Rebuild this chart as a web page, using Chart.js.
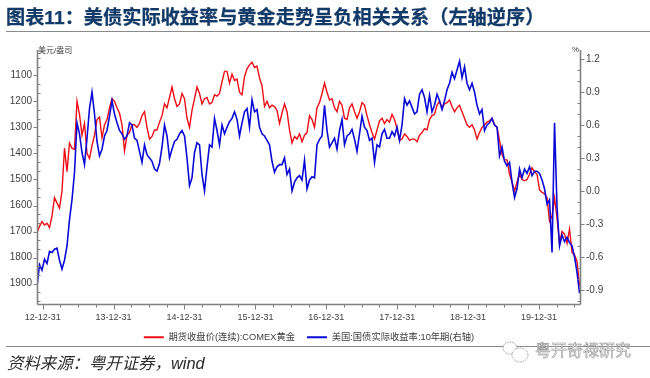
<!DOCTYPE html>
<html lang="zh"><head><meta charset="utf-8">
<style>
html,body{margin:0;padding:0;background:#fff;width:650px;height:378px;overflow:hidden}
#wrap{position:relative;width:650px;height:378px;font-family:"Liberation Sans","Noto Sans CJK SC",sans-serif}
canvas{position:absolute;left:0;top:0}
.t{position:absolute;white-space:nowrap}
#title{left:6px;top:5px;font-size:19.2px;line-height:26px;font-weight:700;color:#123a68;-webkit-text-stroke:.25px #123a68}
.rule{position:absolute;left:6px;right:0;height:1px;background:#8a8a8a}
#src{left:7px;top:353px;font-size:16.4px;line-height:20px;font-style:italic;color:#2b2b2b}
#wm{left:535px;top:341px;font-size:16px;line-height:20px;color:#f4f4f4;-webkit-text-stroke:.5px #8b8b8b}
svg{position:absolute;left:500px;top:336px}
</style></head><body>
<div id="wrap">
<canvas id="c" width="650" height="378"></canvas>
<div class="t" id="title">图表11：美债实际收益率与黄金走势呈负相关关系（左轴逆序）</div>
<div class="rule" style="top:31px"></div>
<div class="rule" style="top:346px"></div>
<div class="t" id="src">资料来源：粤开证券，wind</div>
<svg width="32" height="32" viewBox="0 0 32 32" fill="#fff" stroke="#888" stroke-width=".8" stroke-dasharray="1.5 1"><ellipse cx="10" cy="12" rx="7" ry="6"/><ellipse cx="20" cy="19" rx="8" ry="7"/></svg>
<div class="t" id="wm">粤开奇禄研究</div>
</div>
<script src="https://cdn.jsdelivr.net/npm/chart.js@4"></script>
<script>
// Year labels at each 31 December
const yearTicks = [2013,2014,2015,2016,2017,2018,2019,2020];
const yearLabels = ['12-12-31','13-12-31','14-12-31','15-12-31','16-12-31','17-12-31','18-12-31','19-12-31'];
const goldTicks = [1100,1200,1300,1400,1500,1600,1700,1800,1900];
const rateTicks = [1.2,0.9,0.6,0.3,0.0,-0.3,-0.6,-0.9];
const goldName = '期货收盘价(连续):COMEX黄金';
const rateName = '美国:国债实际收益率:10年期(右轴)';
const goldValues = [
1706,1680,1662,1675,1668,1685,1640,1570,1590,1610,
1545,1380,1470,1360,1380,1385,1200,1250,1330,1285,
1400,1420,1370,1330,1270,1260,1340,1290,1270,1225,
1190,1200,1225,1245,1290,1390,1330,1320,1290,1290,
1300,1285,1255,1240,1300,1345,1335,1310,1310,1280,
1255,1210,1225,1185,1145,1190,1220,1210,1170,1190,
1265,1300,1235,1190,1145,1170,1210,1190,1185,1210,
1205,1175,1180,1170,1125,1085,1085,1130,1095,1120,
1115,1165,1175,1105,1075,1060,1050,1070,1065,1110,
1140,1220,1200,1225,1215,1220,1235,1285,1245,1210,
1240,1310,1360,1335,1345,1325,1355,1330,1320,1255,
1270,1300,1225,1205,1170,1130,1165,1195,1190,1225,
1240,1200,1215,1265,1270,1225,1210,1240,1265,1240,
1205,1215,1255,1290,1320,1345,1310,1275,1265,1285,
1270,1280,1250,1270,1305,1350,1345,1325,1335,1350,
1345,1345,1355,1330,1320,1305,1310,1270,1255,1250,
1215,1200,1225,1210,1205,1195,1220,1240,1225,1215,
1240,1265,1290,1300,1290,1310,1345,1320,1300,1290,
1280,1275,1265,1290,1300,1350,1405,1425,1425,1480,
1510,1545,1510,1480,1500,1505,1500,1480,1455,1470,
1480,1540,1550,1555,1570,1660,1640,1570,1650,1745,
1700,1710,1745,1690,1780,1790,1815,1910];
const rateValues = [
-0.87,-0.67,-0.72,-0.62,-0.66,-0.55,-0.56,-0.53,-0.52,-0.63,
-0.71,-0.63,-0.50,-0.26,-0.08,0.17,0.62,0.52,0.35,0.24,
0.48,0.75,0.90,0.70,0.45,0.32,0.38,0.50,0.55,0.68,
0.82,0.70,0.62,0.55,0.52,0.47,0.50,0.62,0.60,0.48,
0.46,0.36,0.26,0.42,0.33,0.30,0.27,0.20,0.18,0.25,
0.40,0.60,0.50,0.30,0.38,0.45,0.47,0.52,0.55,0.50,
0.30,0.05,0.12,0.35,0.44,0.42,0.15,0.00,0.22,0.42,
0.40,0.66,0.55,0.42,0.60,0.52,0.58,0.63,0.66,0.72,
0.65,0.50,0.62,0.72,0.75,0.58,0.83,0.72,0.74,0.58,
0.52,0.50,0.46,0.42,0.27,0.17,0.22,0.24,0.24,0.30,
0.15,0.20,0.00,0.08,0.12,0.14,0.10,0.28,0.02,0.10,
0.13,0.12,0.42,0.47,0.50,0.78,0.55,0.40,0.44,0.48,
0.38,0.55,0.65,0.42,0.50,0.52,0.56,0.47,0.36,0.52,
0.68,0.58,0.55,0.46,0.48,0.26,0.42,0.40,0.52,0.56,
0.48,0.48,0.54,0.50,0.58,0.46,0.60,0.84,0.78,0.82,
0.76,0.70,0.72,0.88,0.92,0.85,0.72,0.87,0.72,0.78,
0.88,0.82,0.74,0.82,0.92,0.98,1.08,1.02,1.10,1.18,
1.03,1.13,0.98,0.92,0.98,0.90,0.78,0.70,0.74,0.55,
0.60,0.62,0.66,0.60,0.58,0.32,0.40,0.27,0.23,0.26,
0.08,-0.06,0.02,0.20,0.12,0.20,0.16,0.22,0.14,0.18,
0.18,0.16,0.10,0.02,-0.12,-0.08,-0.56,0.62,-0.15,-0.50,
-0.40,-0.46,-0.42,-0.47,-0.50,-0.60,-0.74,-0.93];
const firstYear = 2012.92, sampleStep = 0.03526;
const sampleYears = goldValues.map((_, i) => firstYear + i * sampleStep);

const FONT = '"Liberation Sans","Noto Sans CJK SC",sans-serif';
const AX = '#808080', TXT = '#404040';
const quarters = []; for (let q = 2013; q <= 2020.5; q += 0.25) quarters.push(q);
const goldMinor = []; for (let k = -2; k <= 26; k++) goldMinor.push(1100 + k * 100 / 3);
const rateMinor = []; for (let k = 12; k >= -10; k--) rateMinor.push(k / 10);

const frame = {
  id: 'frame',
  afterDatasetsDraw(ch) {
    const { ctx, chartArea: a, scales: s } = ch;
    ctx.save();
    ctx.strokeStyle = AX; ctx.lineWidth = 1;
    const ln = (x1, y1, x2, y2) => { ctx.beginPath(); ctx.moveTo(x1, y1); ctx.lineTo(x2, y2); ctx.stroke(); };
    const L = Math.round(a.left) + .5, R = Math.round(a.right) + .5, B = Math.round(a.bottom) + .5;
    ctx.lineWidth = 1.6;
    ln(L, a.top, L, B); ln(R, a.top, R, B); ln(L, B, R, B);
    ctx.lineWidth = 1;
    goldMinor.forEach(v => { const y = Math.round(s.yGold.getPixelForValue(v)) + .5;
      if (goldTicks.includes(Math.round(v))) ln(L - 4, y, L, y); else ln(L, y, L + 3, y); });
    rateMinor.forEach(v => { const y = Math.round(s.yRate.getPixelForValue(v)) + .5;
      if (rateTicks.some(t => Math.abs(t - v) < 1e-6)) ln(R, y, R + 4, y); else ln(R - 3, y, R, y); });
    quarters.forEach(v => { const x = Math.round(s.x.getPixelForValue(v)) + .5;
      ln(x, B, x, B + (Number.isInteger(v) ? 5 : 3)); });
    ctx.fillStyle = TXT; ctx.font = '8px ' + FONT; ctx.textBaseline = 'middle';
    ctx.textAlign = 'left'; ctx.fillText('美元/盎司', 38, 51);
    ctx.textAlign = 'right'; ctx.fillText('%', 579, 50);
    ctx.restore();
  }
};

new Chart(document.getElementById('c'), {
  type: 'line',
  data: { datasets: [
    { label: goldName, yAxisID: 'yGold', order: 2, borderColor: '#ee0d14', borderWidth: 1.4, pointRadius: 0, tension: 0,
      data: goldValues.map((v, i) => ({ x: sampleYears[i], y: v })) },
    { label: rateName, yAxisID: 'yRate', order: 1, borderColor: '#0a0ad8', borderWidth: 1.6, pointRadius: 0, tension: 0,
      data: rateValues.map((v, i) => ({ x: sampleYears[i], y: v })) }
  ]},
  options: {
    responsive: false, animation: false, devicePixelRatio: 1,
    layout: { padding: { left: 0, right: 32, top: 50, bottom: 26 } },
    plugins: {
      tooltip: { enabled: false },
      legend: { position: 'bottom', labels: { usePointStyle: false, boxWidth: 20, boxHeight: 2, padding: 12,
        color: TXT, font: { size: 9.3, family: FONT },
        generateLabels(ch) {
          return ch.data.datasets.map((d, i) => ({ text: d.label, strokeStyle: d.borderColor, fillStyle: d.borderColor,
            lineWidth: 0, datasetIndex: i, hidden: false, fontColor: TXT }));
        } } }
    },
    scales: {
      x: { type: 'linear', min: 2012.92, max: 2020.578, grid: { display: false, drawTicks: false }, border: { display: false },
        afterBuildTicks(sc) { sc.ticks = yearTicks.map(v => ({ value: v })); },
        afterFit(sc) { sc.height = 17; },
        ticks: { autoSkip: false, maxRotation: 0, padding: 8, color: TXT, font: { size: 9, family: FONT },
          callback(v) { const i = yearTicks.indexOf(v); return i >= 0 ? yearLabels[i] : ''; } } },
      yGold: { position: 'left', reverse: true, min: 1003, max: 1977, grid: { display: false, drawTicks: false }, border: { display: false },
        afterBuildTicks(sc) { sc.ticks = goldTicks.map(v => ({ value: v })); },
        afterFit(sc) { sc.width = 37; },
        ticks: { autoSkip: false, padding: 5, color: TXT, font: { size: 10, family: FONT },
          callback(v) { return String(v); } } },
      yRate: { position: 'right', min: -1.025, max: 1.282, grid: { display: false, drawTicks: false }, border: { display: false },
        afterBuildTicks(sc) { sc.ticks = rateTicks.map(v => ({ value: v })); },
        afterFit(sc) { sc.width = 38; },
        ticks: { autoSkip: false, padding: 6, color: TXT, font: { size: 10, family: FONT },
          callback(v) { return Number(v).toFixed(1); } } }
    }
  },
  plugins: [frame]
});
</script>
</body></html>
